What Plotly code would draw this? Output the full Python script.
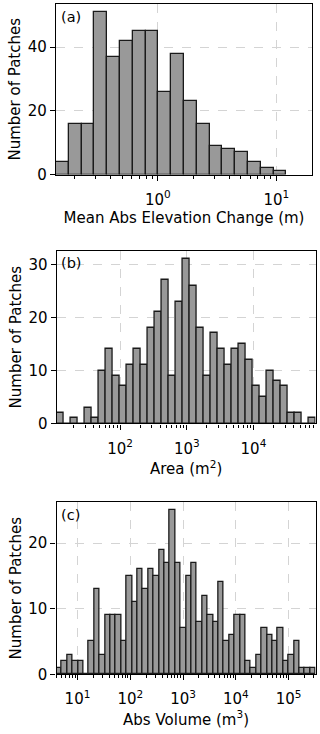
import numpy as np
import plotly.graph_objects as go

# ---------------- data ----------------
# (a) Mean abs elevation change (m): log10 bin range and counts
elev_log_lo, elev_log_hi = -0.859, 1.0845
elev_counts = [4, 16, 16, 51, 37, 42, 45, 45, 26, 38, 23, 16, 9, 8, 7, 4, 2, 1]
elev_xlim = [-0.859, 1.301]
elev_ticks = [0, 1]

# (b) Area (m^2)
area_log_lo, area_log_hi = 1.05, 4.93
area_counts = [2, 0, 1, 0, 3, 1, 10, 14, 9, 7, 11, 14, 11, 18, 21, 27, 9, 23, 31,
               26, 18, 9, 17, 14, 11, 14, 15, 12, 7, 5, 10, 8, 7, 2, 2, 0, 1]
area_xlim = [1.05, 4.93]
area_ticks = [2, 3, 4]

# (c) Abs volume (m^3)
vol_log_lo, vol_log_hi = 0.602, 5.512
vol_counts = [1, 2, 3, 2, 2, 0, 5, 13, 3, 9, 9, 9, 5, 15, 11, 16,
              13, 16, 15, 19, 17, 25, 17, 7, 15, 17, 8, 12, 9, 8, 14, 5,
              6, 9, 9, 2, 1, 3, 7, 6, 5, 7, 2, 3, 5, 1, 1, 1]
vol_xlim = [0.602, 5.512]
vol_ticks = [1, 2, 3, 4, 5]

panel_labels = ["(a)", "(b)", "(c)"]
x_titles = ["Mean Abs Elevation Change (m)", "Area (m<sup>2</sup>)", "Abs Volume (m<sup>3</sup>)"]
y_title = "Number of Patches"
y_ticks = [[0, 20, 40], [0, 10, 20, 30], [0, 10, 20]]

# ---------------- figure ----------------
W, H = 320, 734
FONT = "DejaVu Sans, sans-serif"

panels = [
    dict(lo=elev_log_lo, hi=elev_log_hi, counts=elev_counts, xlim=elev_xlim, ticks=elev_ticks,
         xpx=(56, 312), ypx=(4, 176.7)),
    dict(lo=area_log_lo, hi=area_log_hi, counts=area_counts, xlim=area_xlim, ticks=area_ticks,
         xpx=(56.7, 315.5), ypx=(254, 428.7)),
    dict(lo=vol_log_lo, hi=vol_log_hi, counts=vol_counts, xlim=vol_xlim, ticks=vol_ticks,
         xpx=(56.5, 315.6), ypx=(508.3, 682.7)),
]

fig = go.Figure()
layout = dict(
    width=W, height=H, margin=dict(l=0, r=0, t=0, b=0),
    paper_bgcolor="white", plot_bgcolor="white",
    font=dict(family=FONT, size=15, color="black"),
    showlegend=False, bargap=0,
    annotations=[],
)

for i, p in enumerate(panels):
    n = len(p["counts"])
    edges = np.linspace(p["lo"], p["hi"], n + 1)
    centers = (edges[:-1] + edges[1:]) / 2
    w = edges[1] - edges[0]
    sfx = "" if i == 0 else str(i + 1)
    fig.add_trace(go.Bar(
        x=centers, y=p["counts"], width=w,
        marker=dict(color="#999999", line=dict(color="#1a1a1a", width=1.3)),
        xaxis="x" + sfx, yaxis="y" + sfx, hoverinfo="x+y",
    ))
    ymax = max(p["counts"]) * 1.05
    minor_vals = []
    for d in range(int(np.floor(p["xlim"][0])), int(np.ceil(p["xlim"][1])) + 1):
        for k in range(2, 10):
            v = d + np.log10(k)
            if p["xlim"][0] <= v <= p["xlim"][1]:
                minor_vals.append(v)
    layout["xaxis" + sfx] = dict(
        domain=[p["xpx"][0] / W, p["xpx"][1] / W],
        anchor="y" + sfx, range=p["xlim"],
        tickmode="array", tickvals=p["ticks"],
        ticktext=["10<sup>%d</sup>" % t for t in p["ticks"]],
        ticks="outside", ticklen=5, tickwidth=1, tickcolor="black",
        ticklabelstandoff=6,
        showgrid=True, gridcolor="#d4d4d4", griddash="dash", gridwidth=1,
        showline=True, linecolor="black", linewidth=1.2, mirror=True,
        zeroline=False,
        minor=dict(tickmode="array", tickvals=minor_vals, ticks="outside",
                   ticklen=3, tickwidth=1, tickcolor="black", showgrid=False),
        title=dict(text=x_titles[i], font=dict(size=15), standoff=1),
        tickfont=dict(size=15),
    )
    layout["yaxis" + sfx] = dict(
        domain=[1 - p["ypx"][1] / H, 1 - p["ypx"][0] / H],
        anchor="x" + sfx, range=[0, ymax],
        tickmode="array", tickvals=y_ticks[i],
        ticks="outside", ticklen=5, tickwidth=1, tickcolor="black",
        showgrid=True, gridcolor="#d4d4d4", griddash="dash", gridwidth=1,
        showline=True, linecolor="black", linewidth=1.2, mirror=True,
        zeroline=False,
        title=dict(text=y_title, font=dict(size=15), standoff=3),
        tickfont=dict(size=15),
    )
    layout["annotations"].append(dict(
        text=panel_labels[i], xref="x" + sfx + " domain", yref="y" + sfx + " domain",
        x=0.01, y=0.985, xanchor="left", yanchor="top", showarrow=False,
        font=dict(size=14.5),
    ))

fig.update_layout(**layout)
fig.write_html("out.html")
